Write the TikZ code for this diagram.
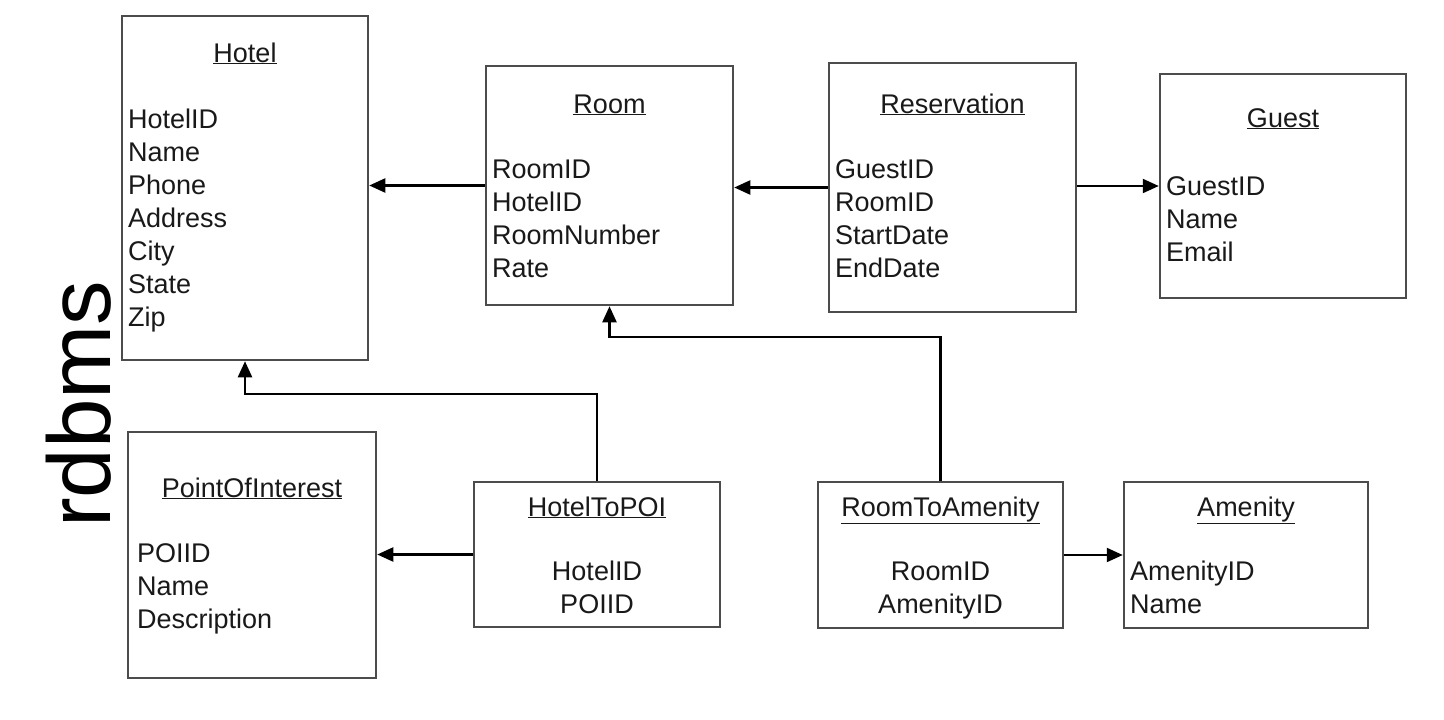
\documentclass[tikz,border=0pt]{standalone}
\usepackage{fontspec}
\setmainfont{Liberation Sans}
\usetikzlibrary{arrows.meta}
\begin{document}
\begin{tikzpicture}[x=1pt,y=-1pt,
  tbl/.style={draw=black!70,line width=2.5pt,fill=white,inner sep=0pt},
  ttl/.style={anchor=base,inner sep=0pt,font=\fontsize{27}{33}\selectfont,text=black!90},
  attr/.style={anchor=base west,inner sep=0pt,font=\fontsize{27}{33}\selectfont,text=black!90},
  attrc/.style={anchor=base,inner sep=0pt,font=\fontsize{27}{33}\selectfont,text=black!90},
  conn/.style={draw=black,line width=2.2pt,-{Triangle[length=16pt,width=14pt]}},
  big/.style={inner sep=0pt,font=\fontsize{89}{100}\selectfont,rotate=90,anchor=base west}]
\useasboundingbox (0,0) rectangle (1444,720);
\fill[white] (0,0) rectangle (1444,720);

% boxes
\node[tbl,minimum width=246pt,minimum height=344pt] (hotel) at (245,188) {};
\node[tbl,minimum width=247pt,minimum height=239pt] (room) at (609.5,185.5) {};
\node[tbl,minimum width=247pt,minimum height=249pt] (res) at (952.5,187.5) {};
\node[tbl,minimum width=246pt,minimum height=224pt] (guest) at (1283,186) {};
\node[tbl,minimum width=248pt,minimum height=246pt] (poi) at (252,555) {};
\node[tbl,minimum width=246pt,minimum height=145pt] (h2p) at (597,554.5) {};
\node[tbl,minimum width=245pt,minimum height=146pt] (r2a) at (940.5,555) {};
\node[tbl,minimum width=244pt,minimum height=146pt] (amen) at (1246,555) {};

% titles
\node[ttl] (hotelT) at (245,62) {\underline{Hotel}};
\node[ttl] (roomT) at (609.5,113) {\underline{Room}};
\node[ttl] (resT) at (952.5,113) {\underline{Reservation}};
\node[ttl] (guestT) at (1283,127) {\underline{Guest}};
\node[ttl] (poiT) at (252,497) {\underline{PointOfInterest}};
\node[ttl] (h2pT) at (597,516) {\underline{HotelToPOI}};
\node[ttl] (r2aT) at (940.5,516) {\underline{RoomToAmenity}};
\node[ttl] (amenT) at (1246,516) {\underline{Amenity}};

% attributes
\foreach \t [count=\i] in {HotelID,Name,Phone,Address,City,State,Zip}
  \node[attr] (hotelA\i) at (128,{128+33*(\i-1)}) {\t};
\foreach \t [count=\i] in {RoomID,HotelID,RoomNumber,Rate}
  \node[attr] (roomA\i) at (492,{178+33*(\i-1)}) {\t};
\foreach \t [count=\i] in {GuestID,RoomID,StartDate,EndDate}
  \node[attr] (resA\i) at (835,{178+33*(\i-1)}) {\t};
\foreach \t [count=\i] in {GuestID,Name,Email}
  \node[attr] (guestA\i) at (1166,{195+33*(\i-1)}) {\t};
\foreach \t [count=\i] in {POIID,Name,Description}
  \node[attr] (poiA\i) at (137,{562+33*(\i-1)}) {\t};
\foreach \t [count=\i] in {HotelID,POIID}
  \node[attrc] (h2pA\i) at (597,{580+33*(\i-1)}) {\t};
\foreach \t [count=\i] in {RoomID,AmenityID}
  \node[attrc] (r2aA\i) at (940.5,{580+33*(\i-1)}) {\t};
\foreach \t [count=\i] in {AmenityID,Name}
  \node[attr] (amenA\i) at (1130,{580+33*(\i-1)}) {\t};

% connectors
\draw[conn] (room.west) -- (room.west -| hotel.east);
\draw[conn] (res.west) -- (res.west -| room.east);
\draw[conn] (res.east |- guest.west) -- (guest.west);
\draw[conn] (h2p.west) -- (h2p.west -| poi.east);
\draw[conn] (r2a.east) -- (r2a.east -| amen.west);
\draw[conn] (h2p.north) -- ++(0,-87) -| (hotel.south);
\draw[conn] (r2a.north) -- ++(0,-144) -| (room.south);

% side label
\node[big] (lbl) at (110,528) {rdbms};
\end{tikzpicture}
\end{document}
